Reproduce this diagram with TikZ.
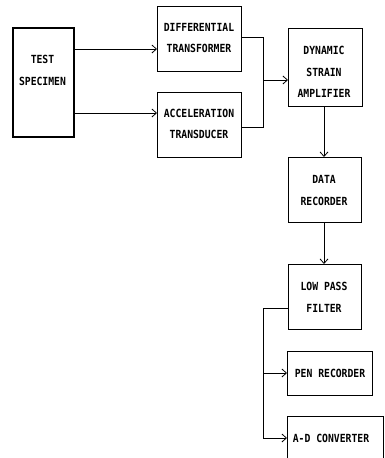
\documentclass[tikz,border=0pt]{standalone}
\usepackage{fontspec}
\newfontfamily\diagfont[FakeStretch=0.87]{DejaVu Sans Mono}
\usetikzlibrary{arrows.meta}
\begin{document}
\begin{tikzpicture}[x=1pt,y=-1pt,
  box/.style={draw, line width=0.8pt, inner sep=0pt, anchor=north west},
  thickbox/.style={box, line width=1.6pt},
  txt/.style={font=\diagfont\bfseries\fontsize{11.2}{21.5}\selectfont, align=center, inner sep=0pt},
  conn/.style={line width=0.8pt},
  arr/.style={conn, -{Straight Barb[length=4.5pt, width=8pt, line width=0.8pt]}}]
\useasboundingbox (0,0) rectangle (384,458);
% boxes
\node[thickbox, minimum width=61pt, minimum height=109pt] (ts) at (12,27) {};
\node[box, minimum width=84pt, minimum height=65pt] (dt) at (157,6) {};
\node[box, minimum width=84pt, minimum height=65pt] (at) at (157,92) {};
\node[box, minimum width=74pt, minimum height=78pt] (dsa) at (288,28) {};
\node[box, minimum width=73pt, minimum height=65pt] (dr) at (288,157) {};
\node[box, minimum width=73pt, minimum height=65pt] (lpf) at (288,264) {};
\node[box, minimum width=85pt, minimum height=44pt] (pr) at (287,351) {};
\node[box, minimum width=96pt, minimum height=60pt] (ad) at (287,416) {};
% texts
\node[txt] (tst) at (42.5,70.5) {TEST\\SPECIMEN};
\node[txt] (dtt) at (199,38) {DIFFERENTIAL\\TRANSFORMER};
\node[txt] (att) at (199,124) {ACCELERATION\\TRANSDUCER};
\node[txt] (dsat) at (324,72) {DYNAMIC\\STRAIN\\AMPLIFIER};
\node[txt] (drt) at (324,190.5) {DATA\\RECORDER};
\node[txt] (lpft) at (324,297.5) {LOW PASS\\FILTER};
\node[txt] (prt) at (330,373) {PEN RECORDER};
\node[txt] (adt) at (331,438) {A-D CONVERTER};
% junctions
\coordinate (j1) at (263,37);
\coordinate (j2) at (263,127);
\coordinate (j3) at (263,80);
\coordinate (k1) at (263,308);
\coordinate (k2) at (263,373);
\coordinate (k3) at (263,438);
% connectors
\draw[arr] (ts.east |- 0,49) -- (dt.west |- 0,49);
\draw[arr] (ts.east |- 0,113) -- (at.west |- 0,113);
\draw[conn] (dt.east |- j1) -- (j1) -- (j2) -- (at.east |- j2);
\draw[arr] (j3) -- (dsa.west |- j3);
\draw[arr] (dsa.south -| 324,0) -- (dr.north -| 324,0);
\draw[arr] (dr.south -| 324,0) -- (lpf.north -| 324,0);
\draw[conn] (lpf.west |- k1) -- (k1) -- (k3);
\draw[arr] (k2) -- (pr.west |- k2);
\draw[arr] (k3) -- (ad.west |- k3);
\end{tikzpicture}
\end{document}
